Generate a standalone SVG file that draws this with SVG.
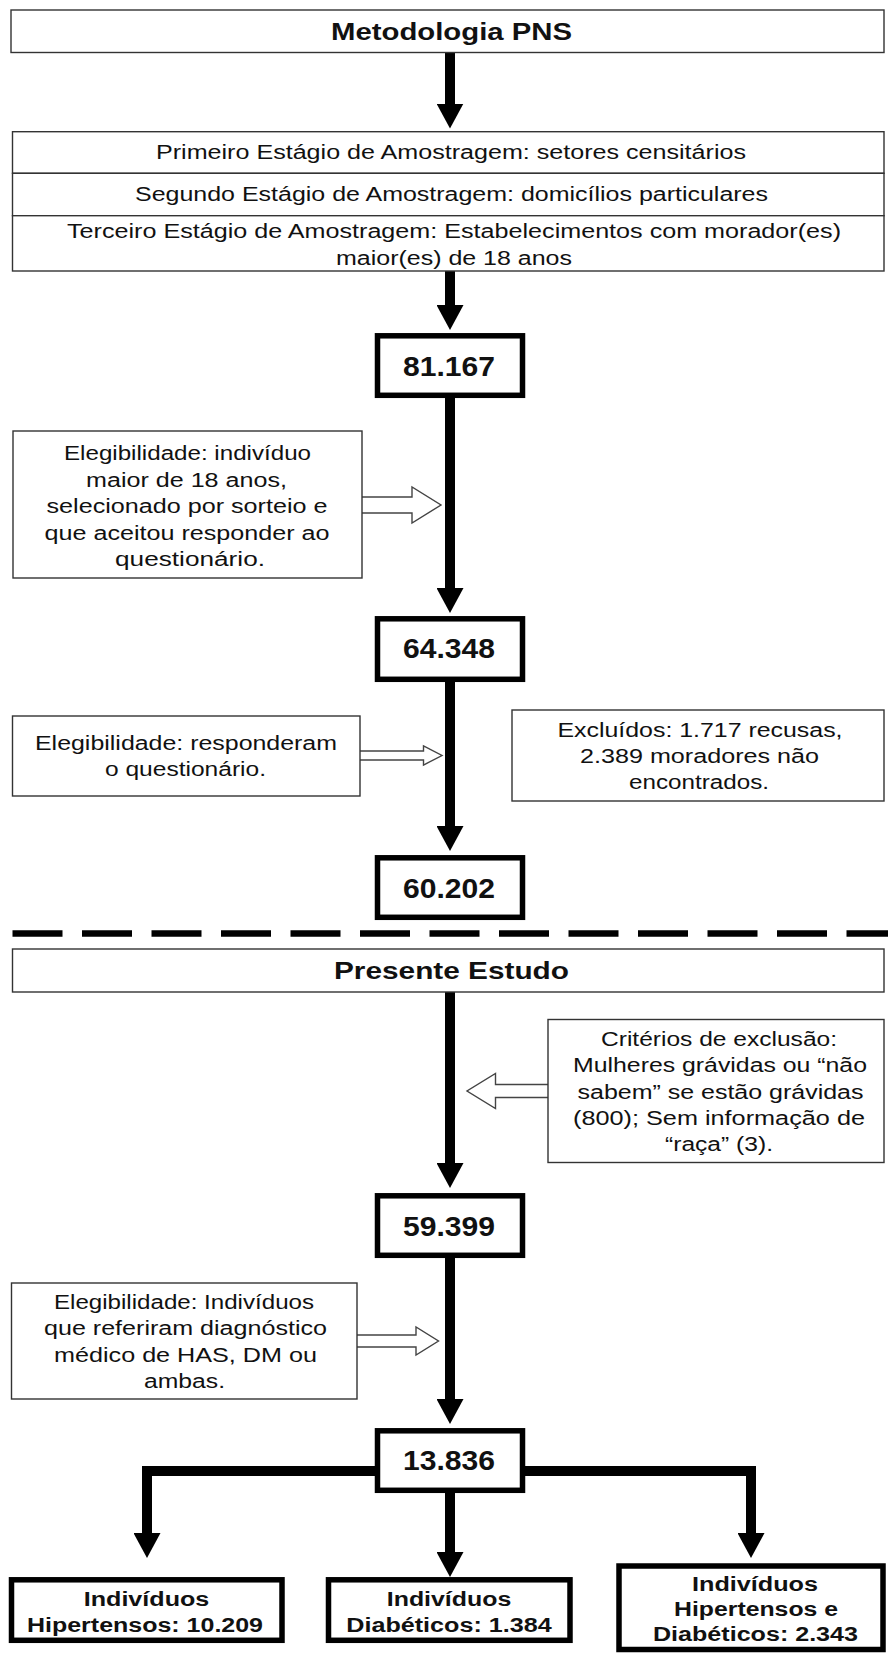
<svg xmlns="http://www.w3.org/2000/svg" width="888" height="1653" viewBox="0 0 888 1653">
<style>
.thin{fill:#fff;stroke:#333;stroke-width:1.4}
.thick{fill:#fff;stroke:#000;stroke-width:5.5}
.t{font-family:"Liberation Sans",Arial,sans-serif;font-size:19.5px;fill:#111;text-anchor:middle}
.b{font-family:"Liberation Sans",Arial,sans-serif;font-weight:bold;fill:#111;text-anchor:middle}
.h{font-size:24px}
.n{font-size:27px}
.s{font-size:20px}
.shaft{stroke:#000;stroke-width:10;fill:none}
.hollow{fill:#fff;stroke:#444;stroke-width:1.4;stroke-linejoin:miter}
</style>
<defs>
<marker id="ah" markerUnits="userSpaceOnUse" viewBox="0 0 25 27" markerWidth="25" markerHeight="27" refX="5" refY="13.5" orient="auto">
<path d="M0,0 L25,13.5 L0,27 Z" fill="#000"/>
</marker>
</defs>
<rect width="888" height="1653" fill="#fff"/>

<g id="connectors">
<line class="shaft" x1="450" y1="52" x2="450" y2="108.5" marker-end="url(#ah)"/>
<line class="shaft" x1="450" y1="271" x2="450" y2="310" marker-end="url(#ah)"/>
<line class="shaft" x1="450" y1="398" x2="450" y2="593" marker-end="url(#ah)"/>
<line class="shaft" x1="450" y1="682" x2="450" y2="831" marker-end="url(#ah)"/>
<line class="shaft" x1="450" y1="992" x2="450" y2="1168" marker-end="url(#ah)"/>
<line class="shaft" x1="450" y1="1258" x2="450" y2="1404" marker-end="url(#ah)"/>
<line class="shaft" x1="450" y1="1493" x2="450" y2="1557" marker-end="url(#ah)"/>
<path class="shaft" d="M376,1471 H147 V1538" stroke-linejoin="miter" marker-end="url(#ah)"/>
<path class="shaft" d="M524,1471 H751 V1538" stroke-linejoin="miter" marker-end="url(#ah)"/>
<path class="hollow" d="M362,497 H412 V487 L441,505 L412,523 V513 H362"/>
<path class="hollow" d="M360,751 H423.5 V746 L442,755.5 L423.5,765 V760 H360"/>
<path class="hollow" d="M548,1084.5 H495.5 V1073.5 L467,1091 L495.5,1108.5 V1097.5 H548"/>
<path class="hollow" d="M357,1335 H416 V1327 L438.5,1341 L416,1355 V1347 H357"/>
<line x1="12.5" y1="933.5" x2="888" y2="933.5" stroke="#000" stroke-width="6.5" stroke-dasharray="50 19.5"/>
</g>

<g id="metodologia">
<rect class="thin" x="11" y="10" width="873" height="42.5"/>
<text class="b h" x="451.5" y="39.5" textLength="241" lengthAdjust="spacingAndGlyphs">Metodologia PNS</text>
</g>

<g id="estagios">
<rect class="thin" x="12.5" y="131.7" width="871.5" height="41.6"/>
<rect class="thin" x="12.5" y="173.3" width="871.5" height="42.4"/>
<rect class="thin" x="12.5" y="215.7" width="871.5" height="55.3"/>
<text class="t s" x="451" y="159" textLength="590" lengthAdjust="spacingAndGlyphs">Primeiro Estágio de Amostragem: setores censitários</text>
<text class="t s" x="451.5" y="201" textLength="633" lengthAdjust="spacingAndGlyphs">Segundo Estágio de Amostragem: domicílios particulares</text>
<text class="t s" x="454" y="237.5" textLength="774" lengthAdjust="spacingAndGlyphs">Terceiro Estágio de Amostragem: Estabelecimentos com morador(es)</text>
<text class="t s" x="454" y="264.5" textLength="236" lengthAdjust="spacingAndGlyphs">maior(es) de 18 anos</text>
</g>

<g id="n81167">
<rect class="thick" x="377.5" y="335.8" width="145" height="59.5"/>
<text class="b n" x="449" y="376" textLength="92" lengthAdjust="spacingAndGlyphs">81.167</text>
</g>

<g id="eleg1">
<rect class="thin" x="13" y="431" width="349" height="147"/>
<text class="t" x="187.5" y="460" textLength="247" lengthAdjust="spacingAndGlyphs">Elegibilidade: indivíduo</text>
<text class="t" x="186.5" y="486.5" textLength="201" lengthAdjust="spacingAndGlyphs">maior de 18 anos,</text>
<text class="t" x="187" y="513" textLength="281" lengthAdjust="spacingAndGlyphs">selecionado por sorteio e</text>
<text class="t" x="187" y="539.5" textLength="285" lengthAdjust="spacingAndGlyphs">que aceitou responder ao</text>
<text class="t" x="190" y="566" textLength="150" lengthAdjust="spacingAndGlyphs">questionário.</text>
</g>

<g id="n64348">
<rect class="thick" x="377.5" y="618.8" width="145" height="60.5"/>
<text class="b n" x="449" y="658" textLength="92" lengthAdjust="spacingAndGlyphs">64.348</text>
</g>

<g id="eleg2">
<rect class="thin" x="12.5" y="716" width="347.5" height="80"/>
<text class="t" x="186" y="750" textLength="302" lengthAdjust="spacingAndGlyphs">Elegibilidade: responderam</text>
<text class="t" x="185.5" y="776" textLength="161" lengthAdjust="spacingAndGlyphs">o questionário.</text>
</g>

<g id="excluidos">
<rect class="thin" x="512" y="710" width="372" height="91"/>
<text class="t" x="700" y="737" textLength="285" lengthAdjust="spacingAndGlyphs">Excluídos:  1.717 recusas,</text>
<text class="t" x="699.5" y="763" textLength="239" lengthAdjust="spacingAndGlyphs">2.389 moradores não</text>
<text class="t" x="699" y="789" textLength="140" lengthAdjust="spacingAndGlyphs">encontrados.</text>
</g>

<g id="n60202">
<rect class="thick" x="377.5" y="857.8" width="145" height="59.5"/>
<text class="b n" x="449" y="898" textLength="92" lengthAdjust="spacingAndGlyphs">60.202</text>
</g>

<g id="presente">
<rect class="thin" x="12.5" y="949" width="871.5" height="43"/>
<text class="b h" x="451.5" y="979" textLength="235" lengthAdjust="spacingAndGlyphs">Presente Estudo</text>
</g>

<g id="criterios">
<rect class="thin" x="548" y="1019.5" width="336" height="143"/>
<text class="t" x="719" y="1045.5" textLength="236" lengthAdjust="spacingAndGlyphs">Critérios de exclusão:</text>
<text class="t" x="720" y="1072" textLength="294" lengthAdjust="spacingAndGlyphs">Mulheres  grávidas ou “não</text>
<text class="t" x="720.5" y="1098.5" textLength="286" lengthAdjust="spacingAndGlyphs">sabem” se estão grávidas</text>
<text class="t" x="719" y="1125" textLength="292" lengthAdjust="spacingAndGlyphs">(800); Sem informação de</text>
<text class="t" x="719" y="1151" textLength="108" lengthAdjust="spacingAndGlyphs">“raça” (3).</text>
</g>

<g id="n59399">
<rect class="thick" x="377.5" y="1195.8" width="145" height="59.5"/>
<text class="b n" x="449" y="1236" textLength="92" lengthAdjust="spacingAndGlyphs">59.399</text>
</g>

<g id="eleg3">
<rect class="thin" x="11.5" y="1283" width="345.5" height="116"/>
<text class="t" x="184" y="1308.5" textLength="260" lengthAdjust="spacingAndGlyphs">Elegibilidade: Indivíduos</text>
<text class="t" x="185.5" y="1335" textLength="283" lengthAdjust="spacingAndGlyphs">que referiram diagnóstico</text>
<text class="t" x="185.5" y="1361.5" textLength="263" lengthAdjust="spacingAndGlyphs">médico de HAS, DM ou</text>
<text class="t" x="184.5" y="1388" textLength="81" lengthAdjust="spacingAndGlyphs">ambas.</text>
</g>

<g id="n13836">
<rect class="thick" x="377.5" y="1430.8" width="145" height="59.5"/>
<text class="b n" x="449" y="1470" textLength="92" lengthAdjust="spacingAndGlyphs">13.836</text>
</g>

<g id="hipertensos">
<rect class="thick" x="11.5" y="1579.8" width="270.5" height="60.5"/>
<text class="b s" x="146.5" y="1606" textLength="125.5" lengthAdjust="spacingAndGlyphs">Indivíduos</text>
<text class="b s" x="145" y="1632" textLength="236" lengthAdjust="spacingAndGlyphs">Hipertensos: 10.209</text>
</g>

<g id="diabeticos">
<rect class="thick" x="328.5" y="1579.8" width="241.5" height="60.5"/>
<text class="b s" x="449" y="1606" textLength="124.5" lengthAdjust="spacingAndGlyphs">Indivíduos</text>
<text class="b s" x="449" y="1632" textLength="205.5" lengthAdjust="spacingAndGlyphs">Diabéticos: 1.384</text>
</g>

<g id="ambos">
<rect class="thick" x="619" y="1566" width="264" height="83.5"/>
<text class="b s" x="755" y="1591" textLength="126" lengthAdjust="spacingAndGlyphs">Indivíduos</text>
<text class="b s" x="756" y="1616" textLength="164" lengthAdjust="spacingAndGlyphs">Hipertensos e</text>
<text class="b s" x="755.5" y="1641" textLength="205" lengthAdjust="spacingAndGlyphs">Diabéticos: 2.343</text>
</g>
</svg>
